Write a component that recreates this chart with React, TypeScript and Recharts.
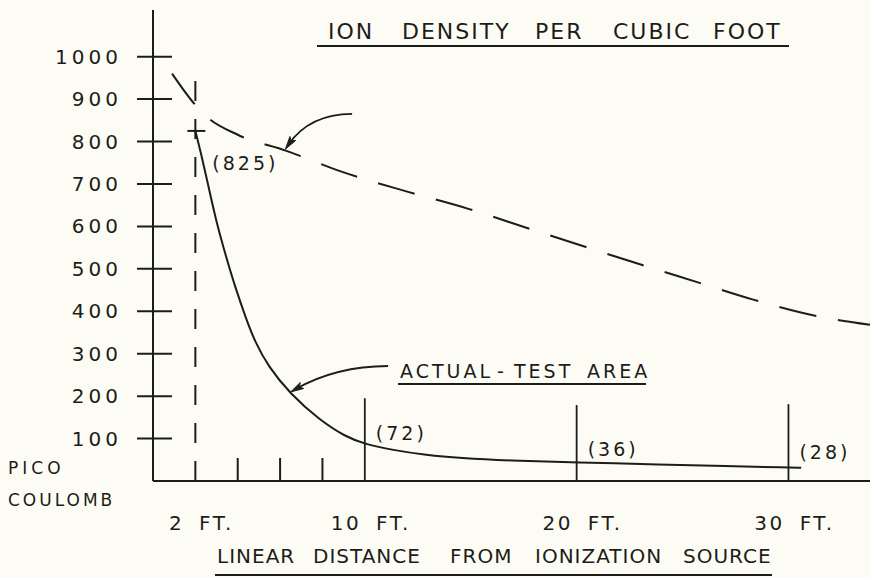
import { LineChart, Line, XAxis, YAxis, ReferenceLine, ReferenceDot } from 'recharts';

const ink = '#1c1c1a';
const paper = '#fdfcf4';
const font = '"DejaVu Sans", sans-serif';

// solid curve: measured charge (picocoulomb) against distance in feet
const actualFeet = [2, 2.27, 2.62, 2.97, 3.4, 3.87, 4.42, 4.8, 5.45, 6.45, 7.85, 9.1, 10, 11.3, 12.9, 14.5, 16.8, 20, 24, 27, 30, 30.6];
const actualValues = [825, 772, 694, 615, 537, 458, 379, 330, 269, 207, 144, 104, 87, 73, 61, 54, 48, 44, 39, 35, 32, 31];

// dashed curve: ion density per cubic foot
const densityFeet = [0.9, 1.95, 2.55, 4, 6.3, 8.9, 12, 14.85, 17.8, 20.4, 23.1, 25.8, 28.3, 31.5, 33.85];
const densityValues = [960, 889, 858, 816, 778, 729, 682, 642, 594, 552, 509, 467, 428, 387, 368];

// readings written on the chart
const readingFeet = [2, 10, 20, 30];
const readingValues = [825, 72, 36, 28];

// vertical markers
const markerFeet = [10, 20, 30];
const markerTops = [195, 179, 181];
const sourceFeet = 2;
const sourceTop = 969;

const yTicks = [100, 200, 300, 400, 500, 600, 700, 800, 900, 1000];
const xTicks = [2, 4, 6, 8, 10, 20, 30];
const xTickLabels = ['2 FT.', '', '', '', '10 FT.', '20 FT.', '30 FT.'];

const actualData = actualFeet.map((x, i) => ({ x, y: actualValues[i] }));
const densityData = densityFeet.map((x, i) => ({ x, y: densityValues[i] }));

const densityArrow = [{ x: 9.4, y: 865 }, { x: 6.25, y: 782 }];
const actualArrow = [{ x: 11.1, y: 271 }, { x: 6.5, y: 210 }];

const titleWords: [string, number][] = [['ION', 328], ['DENSITY', 402], ['PER', 535], ['CUBIC', 613], ['FOOT', 713]];
const axisWords: [string, number][] = [['LINEAR', 217], ['DISTANCE', 313], ['FROM', 450], ['IONIZATION', 535], ['SOURCE', 683]];
const actualWords: [string, number][] = [['ACTUAL', 400], ['-', 497], ['TEST', 514], ['AREA', 587]];

function YTick({ x, y, payload }: any) {
	return (
		<g>
			<line x1={x - 16} x2={x + 19} y1={y} y2={y} stroke={ink} strokeWidth={2} />
			<text x={x - 31} y={y + 7} textAnchor="end" fontSize={20} letterSpacing={4} fill={ink} fontFamily={font}>
				{payload.value}
			</text>
		</g>
	);
}

function XTick({ x, y, payload }: any) {
	const label = xTickLabels[xTicks.indexOf(payload.value)];
	if (!label) {
		if (payload.value === sourceFeet) return null;
		return <line x1={x} x2={x} y1={y} y2={y - 23} stroke={ink} strokeWidth={2} />;
	}
	return (
		<text x={x + 6} y={y + 49} textAnchor="middle" fontSize={20} letterSpacing={2.5} wordSpacing={6} fill={ink} fontFamily={font}>
			{label}
		</text>
	);
}

function Arrow({ x1, y1, x2, y2, bow }: any) {
	const dx = x2 - x1;
	const dy = y2 - y1;
	const cx = (x1 + x2) / 2 - dy * bow;
	const cy = (y1 + y2) / 2 + dx * bow;
	const tx = x2 - cx;
	const ty = y2 - cy;
	const tl = Math.hypot(tx, ty) || 1;
	const ux = tx / tl;
	const uy = ty / tl;
	const px = -uy;
	const py = ux;
	const hl = 13;
	const hw = 3.5;
	const bx = x2 - ux * hl;
	const by = y2 - uy * hl;
	return (
		<g>
			<path d={`M${x1},${y1} Q${cx},${cy} ${x2 - ux * 6},${y2 - uy * 6}`} fill="none" stroke={ink} strokeWidth={1.8} />
			<path d={`M${x2},${y2} L${bx + px * hw},${by + py * hw} L${bx + ux * 3},${by + uy * 3} L${bx - px * hw},${by - py * hw} Z`} fill={ink} stroke={ink} strokeWidth={1} />
		</g>
	);
}

function Reading({ cx, cy, value, first }: any) {
	return (
		<g>
			{first ? <line x1={cx - 8} x2={cx + 10} y1={cy} y2={cy} stroke={ink} strokeWidth={2} /> : null}
			<text
				x={cx + (first ? 17 : 11)}
				y={cy + (first ? 39 : -10)}
				fontSize={19}
				letterSpacing={3}
				fill={ink}
				fontFamily={font}
			>
				{`(${value})`}
			</text>
		</g>
	);
}

function Words({ words, y, size, spacing }: { words: [string, number][]; y: number; size: number; spacing: number }) {
	return (
		<text y={y} fontSize={size} letterSpacing={spacing} fill={ink} fontFamily={font}>
			{words.map(([w, x]) => (
				<tspan key={w + x} x={x}>
					{w}
				</tspan>
			))}
		</text>
	);
}

export default function App() {
	return (
		<div style={{ position: 'relative', width: 870, height: 578, background: paper, fontFamily: font }}>
			<style>{`body{margin:0;background:${paper}}`}</style>
			<LineChart width={870} height={578} margin={{ top: 10, right: 0, bottom: 0, left: 0 }}>
				<XAxis
					type="number"
					dataKey="x"
					domain={[0, 33.85]}
					ticks={xTicks}
					interval={0}
					height={97}
					tickSize={0}
					tickMargin={0}
					tickLine={false}
					axisLine={{ stroke: ink, strokeWidth: 2 }}
					tick={(p: any) => <XTick {...p} />}
				/>
				<YAxis
					type="number"
					domain={[0, 1110]}
					ticks={yTicks}
					interval={0}
					width={153}
					tickSize={0}
					tickMargin={0}
					tickLine={false}
					axisLine={{ stroke: ink, strokeWidth: 2 }}
					tick={(p: any) => <YTick {...p} />}
				/>
				<ReferenceLine
					segment={[{ x: sourceFeet, y: 0 }, { x: sourceFeet, y: sourceTop }]}
					stroke={ink}
					strokeWidth={2}
					strokeDasharray="20 18"
				/>
				{markerFeet.map((f, i) => (
					<ReferenceLine
						key={f}
						segment={[{ x: f, y: 0 }, { x: f, y: markerTops[i] }]}
						stroke={ink}
						strokeWidth={1.8}
					/>
				))}
				<Line
					data={densityData}
					dataKey="y"
					type="monotone"
					stroke={ink}
					strokeWidth={2}
					strokeDasharray="38 22"
					dot={false}
					activeDot={false}
					isAnimationActive={false}
				/>
				<Line
					data={actualData}
					dataKey="y"
					type="basis"
					stroke={ink}
					strokeWidth={2}
					dot={false}
					activeDot={false}
					isAnimationActive={false}
				/>
				<ReferenceLine segment={densityArrow} shape={(p: any) => <Arrow {...p} bow={0.26} />} />
				<ReferenceLine segment={actualArrow} shape={(p: any) => <Arrow {...p} bow={0.13} />} />
				{readingFeet.map((f, i) => (
					<ReferenceDot
						key={f}
						x={f}
						y={readingValues[i]}
						r={0}
						shape={(p: any) => <Reading cx={p.cx} cy={p.cy} value={readingValues[i]} first={i === 0} />}
					/>
				))}
			</LineChart>
			<svg width={870} height={578} style={{ position: 'absolute', left: 0, top: 0, pointerEvents: 'none' }}>
				<Words words={titleWords} y={39} size={22} spacing={2} />
				<line x1={317} x2={789} y1={46} y2={46} stroke={ink} strokeWidth={2} />
				<Words words={actualWords} y={378} size={19} spacing={3} />
				<line x1={398} x2={646} y1={384} y2={384} stroke={ink} strokeWidth={2} />
				<Words words={axisWords} y={563} size={20} spacing={1} />
				<line x1={215} x2={772} y1={575} y2={575} stroke={ink} strokeWidth={2} />
				<text x={8} y={474} fontSize={17} letterSpacing={4} fill={ink} fontFamily={font}>PICO</text>
				<text x={8} y={506} fontSize={17} letterSpacing={3} fill={ink} fontFamily={font}>COULOMB</text>
			</svg>
		</div>
	);
}
